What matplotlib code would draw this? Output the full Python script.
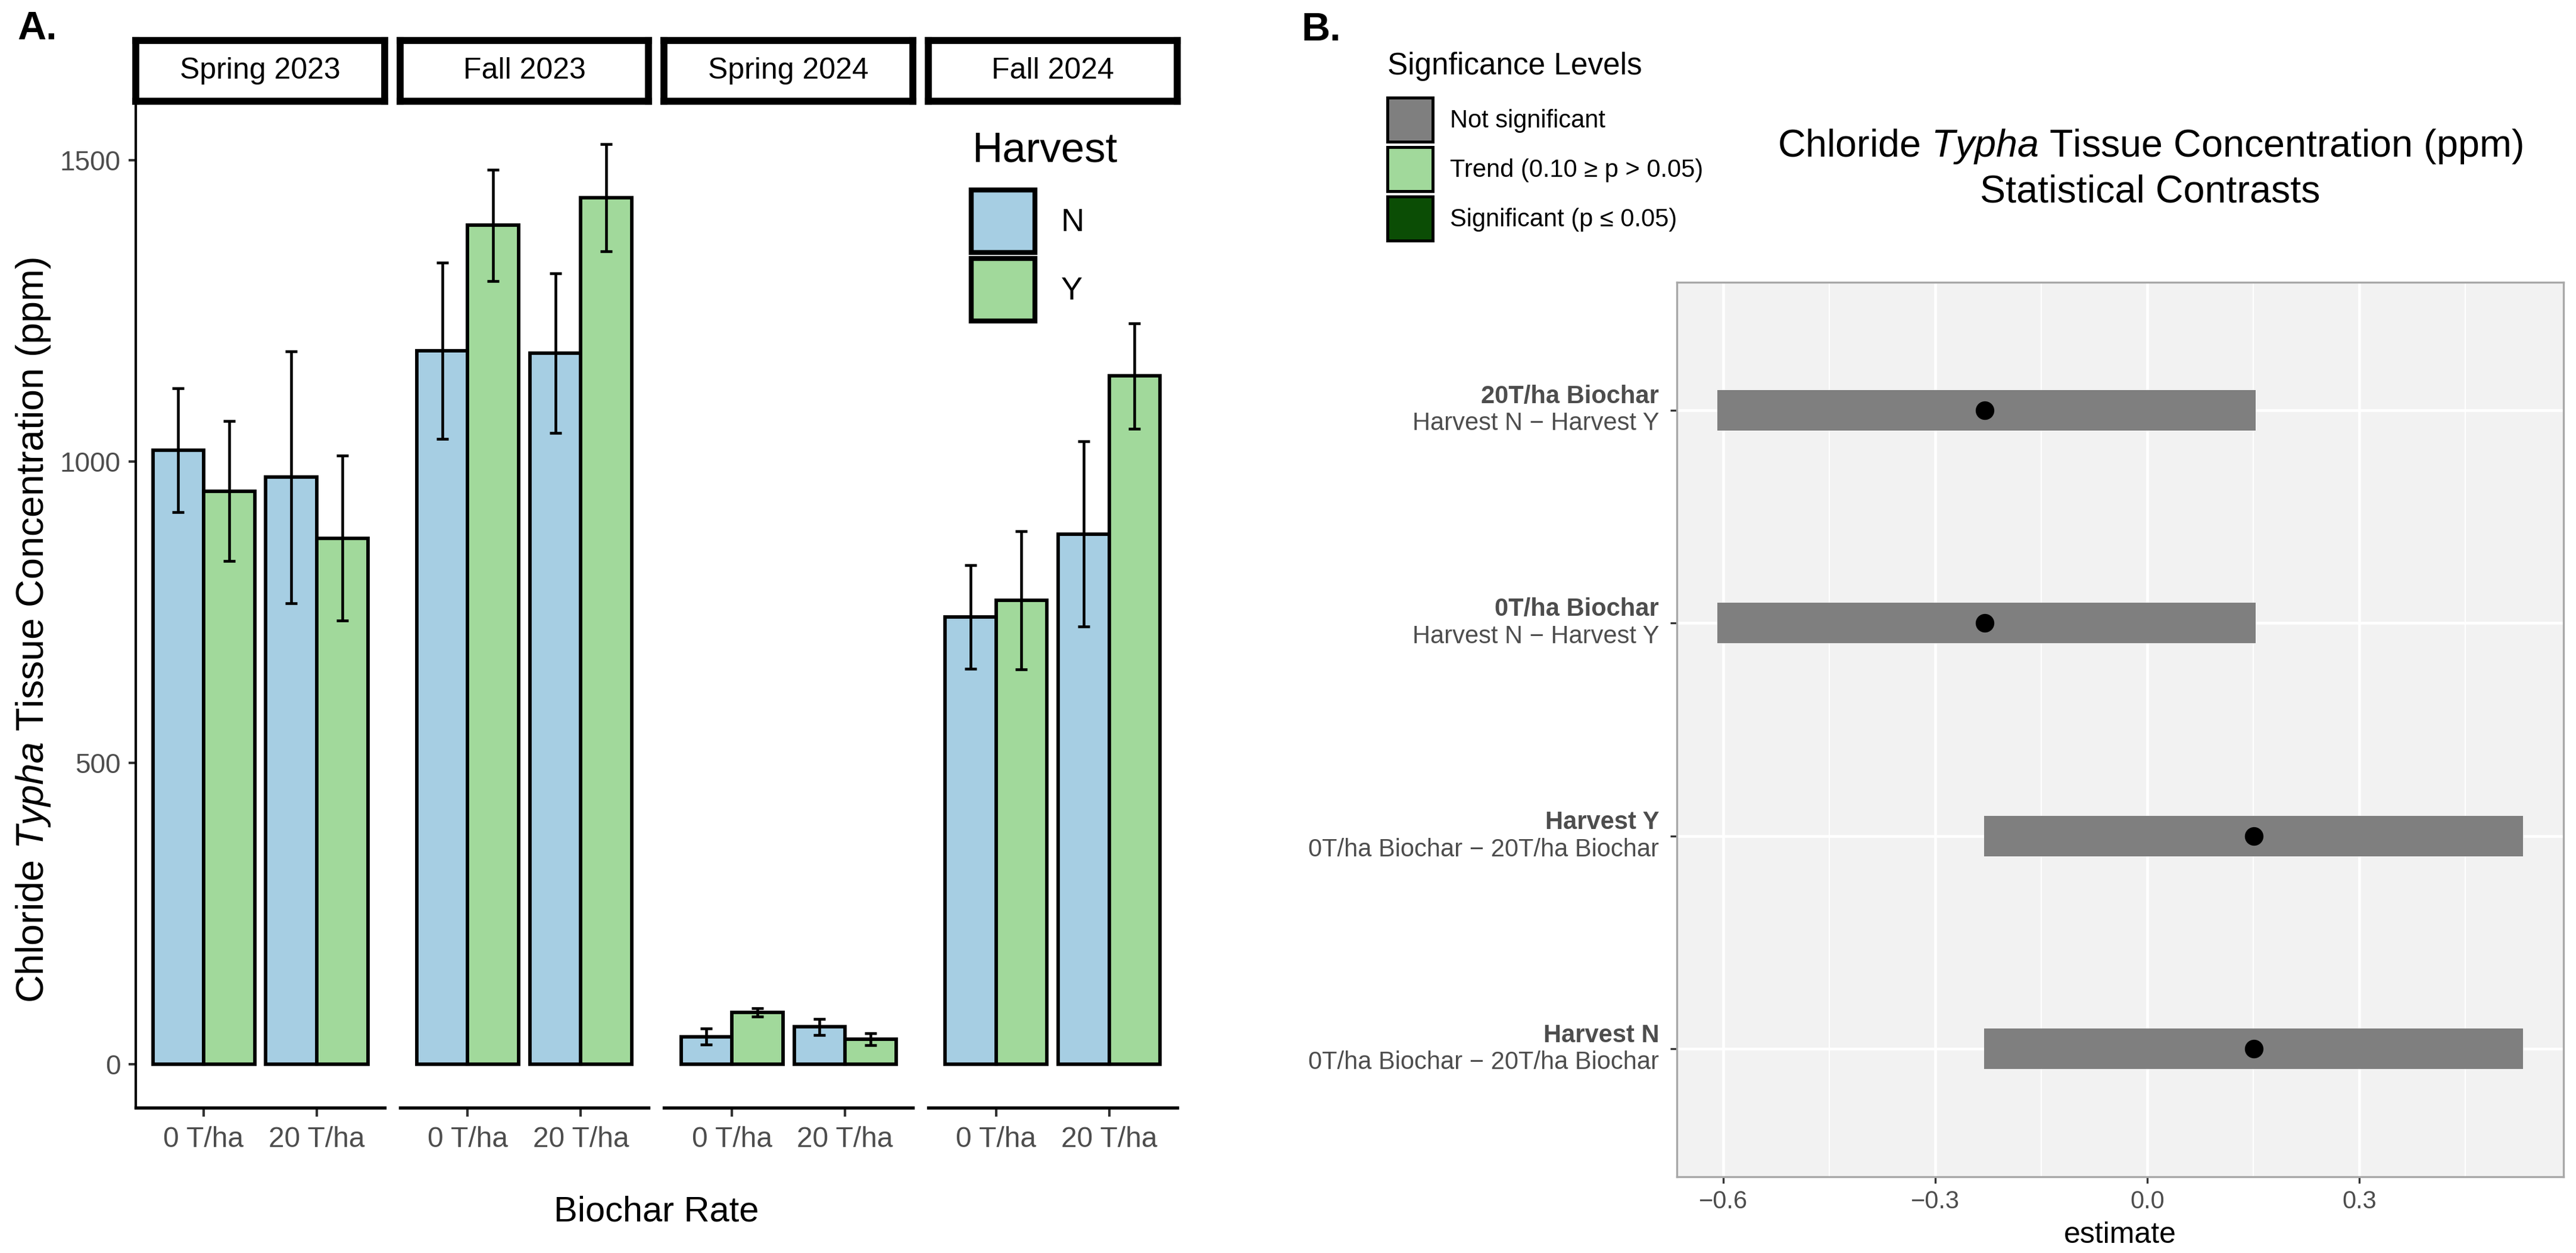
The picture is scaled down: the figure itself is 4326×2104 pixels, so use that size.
import matplotlib
matplotlib.use("Agg")
import matplotlib.pyplot as plt
from matplotlib.patches import Patch
import numpy as np

plt.rcParams['font.family'] = ['Liberation Sans', 'DejaVu Sans']
plt.rcParams['mathtext.fontset'] = 'custom'
plt.rcParams['mathtext.rm'] = 'Liberation Sans'
plt.rcParams['mathtext.it'] = 'Liberation Sans:italic'

# ---------------- Data: panel A ----------------
seasons = ["Spring 2023", "Fall 2023", "Spring 2024", "Fall 2024"]
rates = ["0 T/ha", "20 T/ha"]
harvest_levels = ["N", "Y"]
mean_N = [[1019, 974], [1184, 1180], [46, 62], [742, 880]]
mean_Y = [[951, 873], [1392, 1438], [86, 42], [770, 1142]]
se_N = [[103, 209], [146, 132], [13, 13], [86, 154]]
se_Y = [[116, 137], [92, 89], [7, 10], [115, 87]]

# ---------------- Data: panel B ----------------
contrast_group = ["Harvest N", "Harvest Y", "0T/ha Biochar", "20T/ha Biochar"]
contrast_label = ["0T/ha Biochar \u2212 20T/ha Biochar",
                  "0T/ha Biochar \u2212 20T/ha Biochar",
                  "Harvest N \u2212 Harvest Y",
                  "Harvest N \u2212 Harvest Y"]
estimate = [0.151, 0.151, -0.230, -0.230]
ci_low = [-0.231, -0.231, -0.609, -0.609]
ci_high = [0.532, 0.532, 0.153, 0.153]
significance = ["Not significant"] * 4
sig_levels = ["Not significant", "Trend (0.10 \u2265 p > 0.05)", "Significant (p \u2264 0.05)"]

col_N = "#A6CEE3"
col_Y = "#A1D99B"
sig_colors = {"Not significant": "#7F7F7F",
              "Trend (0.10 \u2265 p > 0.05)": "#A1D99B",
              "Significant (p \u2264 0.05)": "#0B4D05"}

W, H = 4326, 2104
fig = plt.figure(figsize=(W / 300, H / 300), dpi=300)


def fx(px):
    return px / W


def fy(py):
    return 1 - py / H


def key_hh(key_px, fs_pt):
    # handleheight giving a legend key of key_px pixels tall
    fs_px = fs_pt * 300 / 72
    return (key_px / fs_px - 0.245) / 0.65


grey30 = "#4D4D4D"

# ---------------- Panel A ----------------
panel_w = 418
gap = 25.5
top_px, bot_px = 170, 1860
x = np.arange(1, len(rates) + 1)
axes_a = []
for i, season in enumerate(seasons):
    left = 228 + i * (panel_w + gap)
    ax = fig.add_axes([fx(left), fy(bot_px), panel_w / W, (bot_px - top_px) / H])
    axes_a.append(ax)
    ax.bar(x - 0.225, mean_N[i], width=0.45, color=col_N, edgecolor="black",
           linewidth=1.4, zorder=2)
    ax.bar(x + 0.225, mean_Y[i], width=0.45, color=col_Y, edgecolor="black",
           linewidth=1.4, zorder=2)
    ax.errorbar(x - 0.225, mean_N[i], yerr=se_N[i], fmt="none", ecolor="black",
                elinewidth=1.1, capsize=2.3, capthick=1.1, zorder=3)
    ax.errorbar(x + 0.225, mean_Y[i], yerr=se_Y[i], fmt="none", ecolor="black",
                elinewidth=1.1, capsize=2.3, capthick=1.1, zorder=3)
    ax.set_xlim(0.4, 2.6)
    ax.set_ylim(-72, 1598)
    ax.set_xticks(x)
    ax.set_xticklabels(rates, fontsize=11.5, color=grey30)
    ax.tick_params(axis="x", length=3.5, width=1.0, pad=4, color="#333333")
    for s in ["top", "right"]:
        ax.spines[s].set_visible(False)
    ax.spines["bottom"].set_linewidth(1.3)
    if i == 0:
        ax.set_yticks([0, 500, 1000, 1500])
        ax.set_yticklabels(["0", "500", "1000", "1500"], fontsize=11, color=grey30)
        ax.tick_params(axis="y", length=3.0, width=1.0, pad=3, color="#333333")
        ax.spines["left"].set_linewidth(1.0)
    else:
        ax.spines["left"].set_visible(False)
        ax.set_yticks([])
    ax.patch.set_visible(False)

    # strip
    sax = fig.add_axes([fx(left), fy(top_px), panel_w / W, (top_px - 68) / H])
    sax.set_xticks([])
    sax.set_yticks([])
    for s in sax.spines.values():
        s.set_linewidth(2.8)
        s.set_color("black")
    sax.text(0.5, 0.5, season, ha="center", va="center", fontsize=12,
             transform=sax.transAxes)

fig.text(fx(1632), fy(272), "Harvest", ha="left", va="baseline", fontsize=17)
leg_a = axes_a[-1].legend(
    handles=[Patch(facecolor=col_N, edgecolor="black", linewidth=2.0),
             Patch(facecolor=col_Y, edgecolor="black", linewidth=2.0)],
    labels=harvest_levels, fontsize=13,
    frameon=False, loc="upper left", bbox_to_anchor=(fx(1631), fy(319)),
    bbox_transform=fig.transFigure, borderpad=0, borderaxespad=0,
    handlelength=1.98, handleheight=key_hh(105, 13), labelspacing=0.19,
    handletextpad=0.8)

fig.text(fx(1102), fy(2035), "Biochar Rate", ha="center", va="center", fontsize=14.3)
fig.text(fx(56), fy(1058), r"Chloride $\mathit{Typha}$ Tissue Concentration (ppm)",
         ha="center", va="center", rotation=90, fontsize=15.5)
fig.text(fx(29), fy(49), "A.", ha="left", va="center", fontsize=16, fontweight="bold")

# ---------------- Panel B ----------------
axb = fig.add_axes([fx(2816), fy(1976), (4305 - 2816) / W, (1976 - 474) / H])
axb.set_facecolor("#F2F2F2")
ypos = np.arange(1, len(contrast_group) + 1)
widths = np.array(ci_high) - np.array(ci_low)
axb.barh(ypos, widths, left=ci_low, height=0.19,
         color=[sig_colors[s] for s in significance], linewidth=0, zorder=2)
axb.plot(estimate, ypos, "o", color="black", markersize=6.5, zorder=3)
axb.set_xlim(-0.666, 0.589)
axb.set_ylim(0.4, 4.6)
axb.set_xticks([-0.6, -0.3, 0.0, 0.3])
axb.set_xticklabels(["\u22120.6", "\u22120.3", "0.0", "0.3"], fontsize=10, color=grey30)
axb.set_xticks([-0.45, -0.15, 0.15, 0.45], minor=True)
axb.set_yticks(ypos)
axb.set_yticklabels([""] * len(ypos))
axb.tick_params(axis="both", which="major", length=2.75, width=0.8, color="#333333", pad=2.5)
axb.tick_params(axis="x", which="minor", length=0)
axb.grid(which="major", color="white", linewidth=1.1, zorder=0)
axb.grid(which="minor", axis="x", color="white", linewidth=0.55, zorder=0)
axb.set_axisbelow(True)
for s in axb.spines.values():
    s.set_color("#A8A8A8")
    s.set_linewidth(0.8)

for yp, g, lab in zip(ypos, contrast_group, contrast_label):
    axb.annotate(g, xy=(-0.02, yp), xycoords=("axes fraction", "data"),
                 xytext=(0, 5.5), textcoords="offset points", ha="right", va="center",
                 fontsize=10, fontweight="bold", color=grey30)
    axb.annotate(lab, xy=(-0.02, yp), xycoords=("axes fraction", "data"),
                 xytext=(0, -5.5), textcoords="offset points", ha="right", va="center",
                 fontsize=10, color=grey30)

fig.text(fx(3560), fy(2074), "estimate", ha="center", va="center", fontsize=12)
fig.text(fx(3611), fy(246), r"Chloride $\mathit{Typha}$ Tissue Concentration (ppm)",
         ha="center", va="center", fontsize=15.5)
fig.text(fx(3611), fy(323), "Statistical Contrasts", ha="center", va="center", fontsize=15.5)
fig.text(fx(2185), fy(51), "B.", ha="left", va="center", fontsize=16, fontweight="bold")

fig.text(fx(2330), fy(125), "Signficance Levels", ha="left", va="baseline", fontsize=12.3)
leg_b = fig.legend(
    handles=[Patch(facecolor=sig_colors[s], edgecolor="black", linewidth=1.2) for s in sig_levels],
    labels=sig_levels, fontsize=10,
    frameon=False, loc="upper left", bbox_to_anchor=(fx(2330), fy(164)),
    bbox_transform=fig.transFigure, borderpad=0, borderaxespad=0,
    handlelength=1.82, handleheight=key_hh(74, 10), labelspacing=0.22,
    handletextpad=0.7)

fig.savefig("out.png", dpi=300)
